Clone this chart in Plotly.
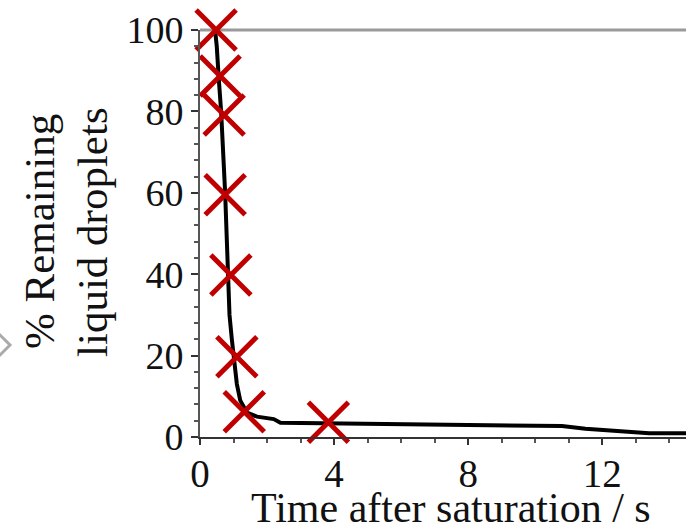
import plotly.graph_objects as go

# ---- data ----
time_s = [0.45, 0.50, 0.56, 0.63, 0.75, 0.84, 0.88, 0.95, 1.00, 1.10, 1.20, 1.40, 1.70, 2.20, 2.40, 4.0, 6.0, 8.0, 10.0, 10.8, 11.5, 12.5, 13.4, 14.6]
remaining = [100, 96, 88, 80, 60, 40, 30, 24, 20, 13, 9, 6, 5.0, 4.4, 3.5, 3.35, 3.2, 3.05, 2.85, 2.7, 2.0, 1.4, 0.9, 0.9]

marker_t = [0.48, 0.60, 0.72, 0.75, 0.92, 1.10, 1.32, 3.83]
marker_y = [100, 88.7, 79.1, 59.5, 39.8, 19.7, 6.2, 3.6]

x_ticks = [0, 4, 8, 12]
y_ticks = [0, 20, 40, 60, 80, 100]

x_title = "Time after saturation / s"
y_title_lines = ["% Remaining", "liquid droplets"]

W, H = 686, 525
ML, MR, MT, MB = 200, 0, 30, 88
FONT = "Liberation Serif, Times New Roman, serif"
INK = "#111111"

pw = W - ML - MR
ph = H - MT - MB
def px(xp):
    return (xp - ML) / pw
def py(yp):
    return (H - MB - yp) / ph

fig = go.Figure()
fig.add_trace(go.Scatter(
    x=time_s, y=remaining, mode="lines",
    line=dict(color="black", width=4),
    showlegend=False, hoverinfo="skip"))
fig.add_trace(go.Scatter(
    x=marker_t, y=marker_y, mode="markers",
    marker=dict(symbol="x-thin", size=40, color="#C00000",
                line=dict(color="#C00000", width=5)),
    cliponaxis=False, showlegend=False))

# gray frame line at the top of the plot (y = 100)
fig.add_shape(type="line", xref="paper", yref="paper", x0=0, x1=1, y0=1, y1=1,
              line=dict(color="#999999", width=3), layer="below")

# small gray chevron artifact at the left edge
fig.add_shape(type="path", xref="paper", yref="paper",
              path=f"M {px(-2)},{py(333)} L {px(10)},{py(345)} L {px(-2)},{py(357)}",
              line=dict(color="#AAAAAA", width=3))

# axis titles as annotations (precise placement)
fig.add_annotation(text=x_title, xref="paper", yref="paper",
                   x=px(451), y=py(508), xanchor="center", yanchor="middle",
                   showarrow=False, font=dict(family=FONT, size=42, color=INK))
for xc, line in zip([39, 92], y_title_lines):
    fig.add_annotation(text=line, xref="paper", yref="paper",
                       x=px(xc), y=py(232), xanchor="center", yanchor="middle",
                       textangle=-90, showarrow=False,
                       font=dict(family=FONT, size=43, color=INK))

fig.update_layout(
    width=W, height=H,
    margin=dict(l=ML, r=MR, t=MT, b=MB, pad=0),
    paper_bgcolor="white", plot_bgcolor="white",
    font=dict(family=FONT, color=INK, size=38),
    xaxis=dict(
        range=[0, 14.5], tickvals=x_ticks, showgrid=False, zeroline=False,
        showline=True, linecolor="#333333", linewidth=2,
        ticks="outside", ticklen=6, tickwidth=2, tickcolor="#333333",
        minor=dict(dtick=1, ticks="outside", ticklen=4, tickwidth=1.5, tickcolor="#555555", showgrid=False),
        tickfont=dict(size=39, family=FONT), ticklabelstandoff=-5,
    ),
    yaxis=dict(
        range=[0, 100], tickvals=y_ticks, showgrid=False, zeroline=False,
        showline=True, linecolor="#555555", linewidth=2,
        ticks="outside", ticklen=7, tickwidth=2, tickcolor="#333333",
        minor=dict(dtick=4, ticks="outside", ticklen=4, tickwidth=1.5, tickcolor="#555555", showgrid=False),
        tickfont=dict(size=38, family=FONT),
    ),
)

fig.write_html("out.html")
